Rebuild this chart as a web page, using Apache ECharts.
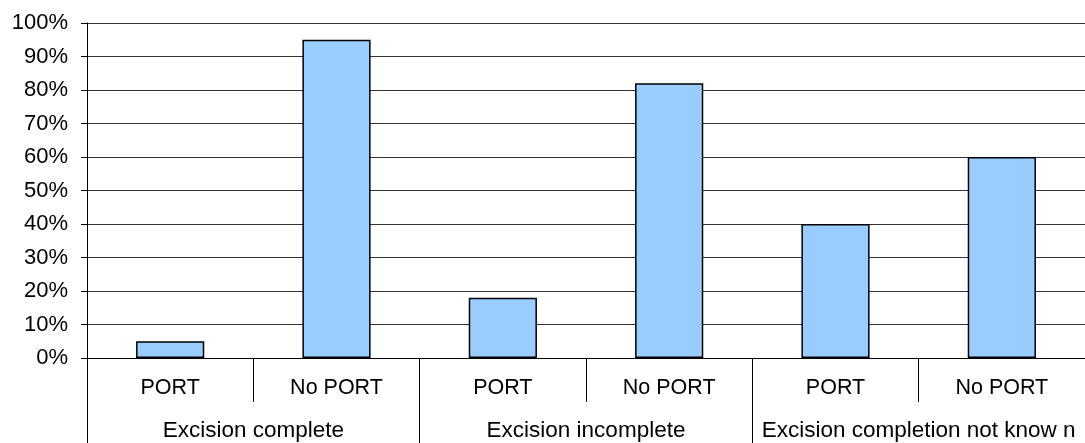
<!DOCTYPE html>
<html>
<head>
<meta charset="utf-8">
<script src="https://cdn.jsdelivr.net/npm/echarts@6/dist/echarts.min.js"></script>
<style>
  html, body { margin: 0; padding: 0; background: #fff; }
  #chart { width: 1085px; height: 443px; }
</style>
</head>
<body>
<div id="chart"></div>
<script>
// Share of PORT / No PORT within each excision outcome (percent)
const subCategories = ['PORT', 'No PORT', 'PORT', 'No PORT', 'PORT', 'No PORT'];
const groupCategories = ['Excision complete', 'Excision incomplete', 'Excision completion not know n'];
const shareValues = [5, 95, 18, 82, 40, 60];
const yTicks = { min: 0, max: 100, interval: 10 };

const font = 'Liberation Sans, Arial, sans-serif';
const chart = echarts.init(document.getElementById('chart'), null, { renderer: 'canvas' });

chart.setOption({
  animation: false,
  backgroundColor: '#ffffff',
  grid: { left: 87, top: 23, width: 1004, height: 335 },
  xAxis: [
    {
      type: 'category',
      position: 'bottom',
      data: subCategories,
      axisLine: { show: true, lineStyle: { color: '#000', width: 1 } },
      axisTick: { show: true, interval: 0, length: 44, lineStyle: { color: '#000', width: 1 } },
      axisLabel: { interval: 0, margin: 19, fontSize: 21.5, fontFamily: font, color: '#000' },
      splitLine: { show: false }
    },
    {
      type: 'category',
      position: 'bottom',
      offset: 0,
      data: groupCategories,
      axisLine: { show: false },
      axisTick: { show: true, interval: 0, length: 86, lineStyle: { color: '#000', width: 1 } },
      axisLabel: { interval: 0, hideOverlap: false, margin: 61, fontSize: 22.5, fontFamily: font, color: '#000' },
      splitLine: { show: false }
    }
  ],
  yAxis: {
    type: 'value',
    min: yTicks.min,
    max: yTicks.max,
    interval: yTicks.interval,
    axisLine: { show: true, lineStyle: { color: '#000', width: 1 } },
    axisTick: { show: true, length: 6, lineStyle: { color: '#000' } },
    axisLabel: { margin: 19, fontSize: 22, fontFamily: font, color: '#000', formatter: '{value}%' },
    splitLine: { show: true, lineStyle: { color: '#333', width: 1 } }
  },
  series: [
    {
      type: 'bar',
      xAxisIndex: 0,
      data: shareValues,
      barWidth: '41%',
      itemStyle: { color: '#99ccff', borderColor: '#000', borderWidth: 1.5 }
    }
  ]
});
</script>
</body>
</html>
